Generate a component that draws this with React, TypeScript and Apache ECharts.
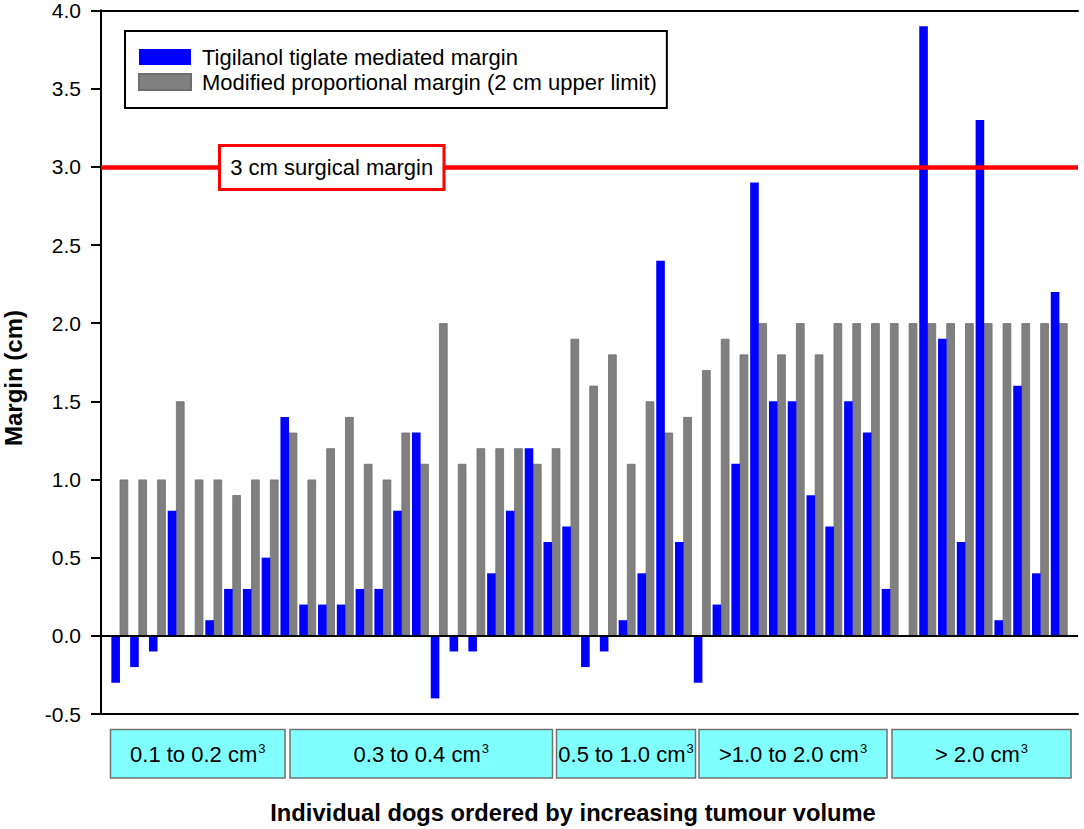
import React, { useEffect, useRef } from "react";
import * as echarts from "echarts";

const FONT = "'Liberation Sans', Arial, Helvetica, sans-serif";

const seriesNames = [
  "Tigilanol tiglate mediated margin",
  "Modified proportional margin (2 cm upper limit)",
];

// Individual dogs ordered by increasing tumour volume (1..51)
const tigilanolMargin = [
  -0.3, -0.2, -0.1, 0.8, 0, 0.1, 0.3, 0.3, 0.5, 1.4,
  0.2, 0.2, 0.2, 0.3, 0.3, 0.8, 1.3, -0.4, -0.1, -0.1,
  0.4, 0.8, 1.2, 0.6, 0.7, -0.2, -0.1, 0.1, 0.4, 2.4,
  0.6, -0.3, 0.2, 1.1, 2.9, 1.5, 1.5, 0.9, 0.7, 1.5,
  1.3, 0.3, 0, 3.9, 1.9, 0.6, 3.3, 0.1, 1.6, 0.4,
  2.2,
];

const proportionalMargin = [
  1.0, 1.0, 1.0, 1.5, 1.0, 1.0, 0.9, 1.0, 1.0, 1.3,
  1.0, 1.2, 1.4, 1.1, 1.0, 1.3, 1.1, 2.0, 1.1, 1.2,
  1.2, 1.2, 1.1, 1.2, 1.9, 1.6, 1.8, 1.1, 1.5, 1.3,
  1.4, 1.7, 1.9, 1.8, 2.0, 1.8, 2.0, 1.8, 2.0, 2.0,
  2.0, 2.0, 2.0, 2.0, 2.0, 2.0, 2.0, 2.0, 2.0, 2.0,
  2.0,
];

const surgicalMargin = 3.0;
const surgicalLabel = "3 cm surgical margin";

const volumeGroups = ["0.1 to 0.2 cm", "0.3 to 0.4 cm", "0.5 to 1.0 cm", ">1.0 to 2.0 cm", "> 2.0 cm"];
// box extents (pixels) under the plot for each volume group
const groupBoxes = [
  [110.5, 285],
  [290, 552.5],
  [556.5, 695.5],
  [699, 887],
  [892, 1071],
];

const yTitle = "Margin (cm)";
const xTitle = "Individual dogs ordered by increasing tumour volume";

export default function App() {
  const ref = useRef<HTMLDivElement>(null);

  useEffect(() => {
    if (!ref.current) return;
    const chart = echarts.init(ref.current, undefined, { renderer: "svg" });

    const boxGraphics: any[] = [];
    groupBoxes.forEach(([x0, x1], i) => {
      boxGraphics.push({
        type: "rect",
        z: 100,
        shape: { x: x0, y: 729.5, width: x1 - x0, height: 48.5 },
        style: { fill: "#80ffff", stroke: "#707070", lineWidth: 1.5 },
      });
      boxGraphics.push({
        type: "text",
        z: 101,
        x: (x0 + x1) / 2,
        y: 754,
        style: {
          text: `{a|${volumeGroups[i]}}{s|3}`,
          align: "center",
          verticalAlign: "middle",
          rich: {
            a: { fontSize: 22, fontFamily: FONT, fill: "#000", lineHeight: 24 },
            s: { fontSize: 13, fontFamily: FONT, fill: "#000", verticalAlign: "top", lineHeight: 24, padding: [0, 0, 0, 1] },
          },
        },
      });
    });

    const option: any = {
      animation: false,
      backgroundColor: "#ffffff",
      textStyle: { fontFamily: FONT },
      grid: { left: 101, right: 6, top: 10, bottom: 115, containLabel: false },
      legend: {
        orient: "vertical",
        left: 125,
        top: 31,
        padding: [15, 10, 15, 13],
        itemGap: 3,
        itemWidth: 52,
        itemHeight: 16,
        borderColor: "#000",
        borderWidth: 2,
        backgroundColor: "#fff",
        icon: "rect",
        textStyle: { fontSize: 22, color: "#000", fontFamily: FONT, padding: [0, 0, 0, 6] },
        data: seriesNames,
      },
      xAxis: [
        {
          type: "value",
          min: 0,
          max: 52,
          position: "bottom",
          axisLine: { show: true, onZero: false, lineStyle: { color: "#000", width: 2 } },
          axisTick: { show: false },
          axisLabel: { show: false },
          splitLine: { show: false },
        },
        {
          type: "value",
          min: 0,
          max: 52,
          position: "top",
          axisLine: { show: true, onZero: false, lineStyle: { color: "#000", width: 2 } },
          axisTick: { show: false },
          axisLabel: { show: false },
          splitLine: { show: false },
        },
      ],
      yAxis: [
        {
          type: "value",
          min: -0.5,
          max: 4.0,
          interval: 0.5,
          position: "left",
          axisLine: { show: true, lineStyle: { color: "#000", width: 2 } },
          axisTick: { show: true, inside: false, length: 10, lineStyle: { color: "#000", width: 2 } },
          axisLabel: {
            fontSize: 21,
            color: "#000",
            fontFamily: FONT,
            margin: 20,
            formatter: (v: number) => v.toFixed(1),
          },
          splitLine: { show: false },
        },
        {
          type: "value",
          min: -0.5,
          max: 4.0,
          interval: 0.5,
          position: "right",
          axisLine: { show: true, lineStyle: { color: "#000", width: 2 } },
          axisTick: { show: false },
          axisLabel: { show: false },
          splitLine: { show: false },
        },
      ],
      series: [
        {
          name: seriesNames[0],
          type: "bar",
          xAxisIndex: 0,
          yAxisIndex: 0,
          barWidth: 8.6,
          barGap: "-4%",
          z: 3,
          itemStyle: { color: "#0000ff" },
          data: tigilanolMargin.map((v, i) => [i + 1, v]),
          markLine: {
            silent: true,
            symbol: ["none", "none"],
            label: { show: false },
            z: 5,
            data: [
              { yAxis: 0, lineStyle: { color: "#000", width: 2, type: "solid" } },
              { yAxis: surgicalMargin, lineStyle: { color: "#ff0000", width: 4.5, type: "solid" } },
            ],
          },
        },
        {
          name: seriesNames[1],
          type: "bar",
          xAxisIndex: 0,
          yAxisIndex: 0,
          barWidth: 8.6,
          barGap: "-4%",
          z: 2,
          itemStyle: { color: "#808080", borderColor: "#6e6e6e", borderWidth: 0.8 },
          data: proportionalMargin.map((v, i) => [i + 1, v]),
        },
      ],
      graphic: [
        {
          type: "rect",
          z: 100,
          shape: { x: 219.5, y: 145.5, width: 224.5, height: 44 },
          style: { fill: "#fff", stroke: "#ff0000", lineWidth: 3 },
        },
        {
          type: "text",
          z: 101,
          x: 331.7,
          y: 167.5,
          style: {
            text: surgicalLabel,
            align: "center",
            verticalAlign: "middle",
            fontSize: 22,
            fontFamily: FONT,
            fill: "#000",
          },
        },
        {
          type: "text",
          z: 101,
          x: 13,
          y: 378,
          rotation: Math.PI / 2,
          style: {
            text: yTitle,
            align: "center",
            verticalAlign: "middle",
            fontSize: 24,
            fontWeight: "bold",
            fontFamily: FONT,
            fill: "#000",
          },
        },
        {
          type: "text",
          z: 101,
          x: 573,
          y: 813,
          style: {
            text: xTitle,
            align: "center",
            verticalAlign: "middle",
            fontSize: 23.7,
            fontWeight: "bold",
            fontFamily: FONT,
            fill: "#000",
          },
        },
        ...boxGraphics,
      ],
    };

    chart.setOption(option);
    return () => chart.dispose();
  }, []);

  return (
    <div
      ref={ref}
      style={{ position: "fixed", left: 0, top: 0, width: 1084, height: 829, background: "#fff" }}
    />
  );
}
